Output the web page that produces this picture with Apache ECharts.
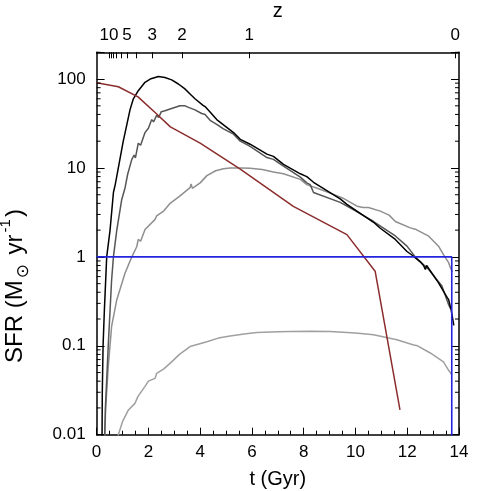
<!DOCTYPE html>
<html>
<head>
<meta charset="utf-8">
<script src="https://cdn.jsdelivr.net/npm/echarts@6/dist/echarts.min.js"></script>
<style>html,body{margin:0;padding:0;background:#fff}#chart{width:491px;height:491px}</style>
</head>
<body>
<div id="chart"></div>
<script>
// ---- data: [t (Gyr), SFR (Msun/yr)] ----
const blackSFR = [[0.21,0.009],[0.22,0.03],[0.25,0.1],[0.3,0.25],[0.39,1.0],[0.52,2.0],[0.65,5.3],[0.72,6.5],[0.9,12.5],[1.03,20],[1.16,30],[1.29,45],[1.42,60],[1.61,74],[1.87,92],[2.1,101],[2.39,107],[2.64,104],[2.9,98],[3.16,88],[3.4,78],[3.61,68],[3.8,60],[4.1,51],[4.15,53],[4.19,49],[4.4,42],[4.64,35],[5.29,25],[5.55,21],[5.93,18.5],[6.58,14.3],[6.83,13.5],[7.22,11],[7.87,8.6],[8.12,8.0],[8.38,6.9],[9.41,4.5],[9.67,3.9],[10.7,2.45],[10.96,2.1],[11.54,1.57],[11.99,1.15],[12.18,1.05],[12.5,0.88],[12.63,0.8],[12.7,0.72],[12.75,0.8],[13.21,0.51],[13.54,0.35],[13.6,0.33],[13.7,0.25],[13.8,0.17]];
const darkGraySFR = [[0.31,0.009],[0.34,0.02],[0.45,0.1],[0.58,0.55],[0.65,1.0],[0.78,2.0],[0.97,4.4],[1.1,6.0],[1.2,8.5],[1.36,12.5],[1.45,14],[1.5,13],[1.61,19],[1.7,18],[1.87,25],[2.0,28],[2.13,35],[2.2,33],[2.32,39],[2.4,37],[2.5,43],[2.64,44],[2.84,46],[2.9,48],[3.22,50],[3.42,50],[3.55,48],[3.61,46],[3.8,45],[4.06,41],[4.19,40],[4.26,42],[4.4,34],[4.64,31],[4.9,27.5],[5.29,24],[5.55,20],[5.93,17.5],[6.58,13.1],[6.83,12.5],[7.22,10.5],[7.87,7.9],[8.12,6.8],[8.25,6.5],[8.38,5.3],[9.41,4.1],[10.0,3.3],[10.7,2.5],[11.54,1.72],[11.99,1.32],[12.31,1.0],[12.83,0.72],[13.34,0.47],[13.6,0.29],[13.68,0.26]];
const midGraySFR = [[0.31,0.009],[0.35,0.02],[0.45,0.058],[0.58,0.165],[0.78,0.33],[1.1,0.66],[1.36,1.0],[1.55,1.3],[1.61,1.57],[1.7,1.5],[1.87,2.03],[2.26,2.64],[2.32,2.9],[2.6,3.3],[2.84,4.0],[2.9,3.9],[3.2,4.8],[3.61,6.0],[3.65,6.6],[3.7,5.9],[4.0,6.8],[4.26,8.2],[4.6,9.3],[4.9,9.8],[5.16,10.0],[5.6,10.0],[5.93,9.9],[6.4,9.6],[6.83,9.0],[7.22,8.6],[7.87,7.45],[8.12,6.5],[8.6,5.8],[9.15,5.05],[9.5,4.6],[10.06,3.72],[10.3,3.6],[10.5,3.6],[10.96,3.27],[11.3,2.95],[11.54,2.5],[11.6,2.63],[12.12,2.12],[12.31,2.05],[12.83,1.71],[13.21,1.32],[13.4,1.06],[13.6,0.86],[13.67,0.75],[13.75,0.68]];
const lowGraySFR = [[0.82,0.009],[0.84,0.01],[1.0,0.014],[1.23,0.019],[1.48,0.0225],[1.6,0.027],[1.87,0.035],[2.0,0.04],[2.26,0.043],[2.32,0.049],[2.6,0.055],[2.97,0.069],[3.2,0.08],[3.61,0.098],[4.26,0.111],[4.7,0.122],[5.16,0.129],[5.7,0.136],[6.19,0.141],[7.0,0.144],[7.48,0.145],[8.3,0.146],[9.02,0.145],[10.0,0.139],[10.7,0.133],[11.6,0.117],[12.25,0.102],[12.4,0.1],[12.89,0.083],[13.4,0.066],[13.6,0.053],[13.73,0.047]];
const redSFR = [[0,91],[0.84,82],[1.6,63],[2.26,42],[2.85,29],[4.0,19],[5.55,9.7],[7.6,3.7],[9.67,1.78],[10.76,0.69],[11.72,0.019]];
const blueSFR = [[0,1],[13.72,1],[13.72,0.001]];

// ---- axes ----
const xMin = 0, xMax = 14;
const yMin = 0.01, yMax = 200;
const zLabels = ['10','5','3','2','1','0'];
const zLabelTimes = [0.48,1.17,2.15,3.3,5.9,13.85];
const zTickTimes = [0.48,0.55,0.65,0.77,0.94,1.17,1.55,2.15,3.3,5.9,13.85];
const yMinorTicks = [0.02,0.03,0.04,0.05,0.06,0.07,0.08,0.09,0.2,0.3,0.4,0.5,0.6,0.7,0.8,0.9,2,3,4,5,6,7,8,9,20,30,40,50,60,70,80,90,200];

const FONT = 'Liberation Sans, Arial, Helvetica, sans-serif';
const chart = echarts.init(document.getElementById('chart'), null, {renderer:'canvas'});

function lineSeries(data, color, width, z) {
  return {type:'line', data:data, xAxisIndex:0, yAxisIndex:0, showSymbol:false, symbol:'none',
    lineStyle:{color:color, width:width}, clip:true, z:z, animation:false};
}

const option = {
  animation:false,
  backgroundColor:'#fff',
  textStyle:{fontFamily:FONT},
  grid:{left:96.6, right:32, top:52.3, bottom:56.3, containLabel:false, outerBoundsMode:'none'},
  xAxis:[
    {type:'value', position:'bottom', min:xMin, max:xMax, interval:2,
     name:'t (Gyr)', nameLocation:'middle', nameGap:35,
     nameTextStyle:{fontSize:20, color:'#000', fontFamily:FONT},
     axisLine:{show:true, onZero:false, lineStyle:{color:'#000', width:1.5}},
     axisTick:{show:true, inside:true, length:7, lineStyle:{color:'#000', width:1}},
     minorTick:{show:true, splitNumber:4, length:4, lineStyle:{color:'#000', width:1}},
     axisLabel:{fontSize:17, color:'#000', margin:9, fontFamily:FONT},
     splitLine:{show:false}},
    {type:'value', position:'top', min:xMin, max:xMax,
     name:'z', nameLocation:'middle', nameGap:31,
     nameTextStyle:{fontSize:20, color:'#000', fontFamily:FONT},
     axisLine:{show:true, onZero:false, lineStyle:{color:'#000', width:1.5}},
     axisTick:{show:true, inside:true, length:6, customValues:zTickTimes, lineStyle:{color:'#000', width:1}},
     axisLabel:{fontSize:17, color:'#000', margin:8, fontFamily:FONT, customValues:zLabelTimes,
       formatter:function(v){ for (let i=0;i<zLabelTimes.length;i++){ if (Math.abs(zLabelTimes[i]-v)<1e-6) return zLabels[i]; } return ''; }},
     splitLine:{show:false}}
  ],
  yAxis:[
    {type:'log', logBase:10, min:yMin, max:yMax, position:'left',
     axisLine:{show:true, onZero:false, lineStyle:{color:'#000', width:1.5}},
     axisTick:{show:true, inside:true, length:8, lineStyle:{color:'#000', width:1}},
     axisLabel:{fontSize:17, color:'#000', margin:11, fontFamily:FONT,
       formatter:function(v){ const l=Math.log10(v); if (Math.abs(l-Math.round(l))<1e-6 && v<=100.0001) { const p=Math.round(l); return p<0 ? (Math.pow(10,p)).toFixed(-p) : String(Math.pow(10,p)); } return ''; }},
     splitLine:{show:false}},
    {type:'log', logBase:10, min:yMin, max:yMax, position:'right',
     axisLine:{show:true, onZero:false, lineStyle:{color:'#000', width:1.5}},
     axisTick:{show:true, inside:true, length:8, lineStyle:{color:'#000', width:1}},
     axisLabel:{show:false},
     splitLine:{show:false}}
  ],
  graphic:[
    {type:'text', x:15, y:286, rotation:Math.PI/2,
     style:{text:'SFR (M{sub|\u2299} yr{sup|-1})', fontSize:24, fontFamily:FONT, fill:'#000',
       align:'center', verticalAlign:'middle',
       rich:{sub:{fontSize:17, verticalAlign:'bottom', fontFamily:'DejaVu Sans', padding:[0,3,-5,2]},
             sup:{fontSize:15, verticalAlign:'top', fontFamily:FONT, padding:[-5,2,0,2]}}}}
  ],
  series:[
    {type:'custom', xAxisIndex:0, yAxisIndex:0, clip:false, silent:true, z:10,
     data:yMinorTicks.map(function(v){return [xMin, v];}),
     renderItem:function(params, api){
       const v = api.value(1);
       const pL = api.coord([xMin, v]);
       const pR = api.coord([xMax, v]);
       return {type:'group', children:[
         {type:'line', shape:{x1:pL[0], y1:pL[1], x2:pL[0]+4, y2:pL[1]}, style:{stroke:'#000', lineWidth:1}},
         {type:'line', shape:{x1:pR[0], y1:pR[1], x2:pR[0]-4, y2:pR[1]}, style:{stroke:'#000', lineWidth:1}}
       ]};
     }},
    lineSeries(lowGraySFR, '#a0a0a0', 1.5, 2),
    lineSeries(midGraySFR, '#8f8f8f', 1.5, 3),
    lineSeries(darkGraySFR, '#555555', 1.5, 4),
    lineSeries(blackSFR, '#000000', 1.5, 5),
    lineSeries(redSFR, '#8c2d2d', 1.5, 6),
    lineSeries(blueSFR, '#2424dc', 1.6, 7)
  ]
};
chart.setOption(option);
</script>
</body>
</html>
